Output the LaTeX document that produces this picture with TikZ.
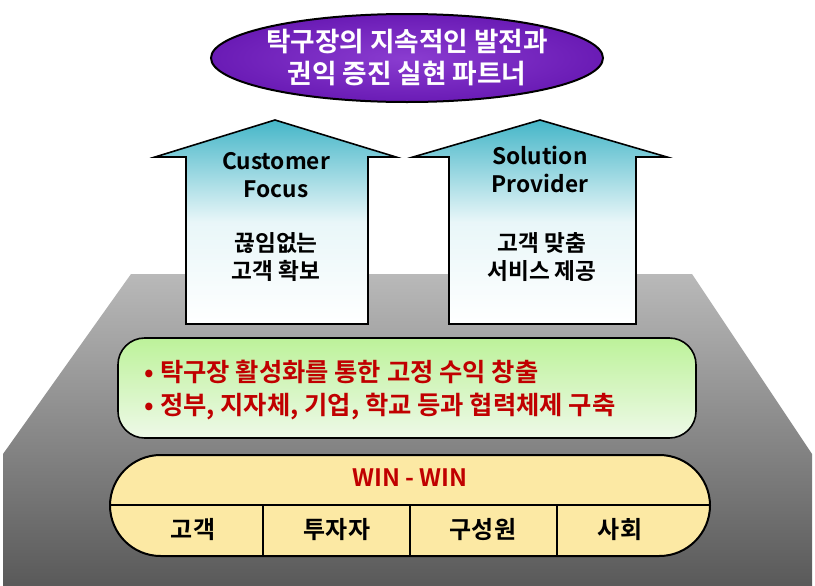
\documentclass[tikz,border=0pt]{standalone}
\usepackage{fontspec}
\setmainfont{Noto Sans CJK KR}[BoldFont={* Bold}]
\usetikzlibrary{shapes.geometric}
\definecolor{dred}{HTML}{C00000}
\definecolor{gtop}{HTML}{BDF29A}
\definecolor{gbot}{HTML}{EEF9E8}
\definecolor{ylw}{HTML}{FCE9A4}
\definecolor{purp}{HTML}{6A1BB5}
\definecolor{purpl}{HTML}{8A3CD0}
\definecolor{teal1}{HTML}{45B6C8}
\begin{document}
\begin{tikzpicture}[x=0.75pt,y=-0.75pt,font=\bfseries,
  arrowshape/.style={draw=black,line width=1.2pt,top color=teal1,bottom color=white,middle color=teal1!12!white},
  ttxt/.style={font=\bfseries\fontsize{17}{21}\selectfont,align=center},
  gtxt/.style={anchor=west,text=dred,font=\bfseries\fontsize{19}{22}\selectfont},
  cell/.style={font=\bfseries\fontsize{18}{21}\selectfont}]
\useasboundingbox (0,0) rectangle (815,586);
% base trapezoid
\path[top color=gray!55,bottom color=black!65] (131,274) -- (692,274) -- (812,454) -- (812,586) -- (3,586) -- (3,454) -- cycle;
% arrows
\path[arrowshape] (186,324) -- (186,157) -- (155,157) -- (275,120) -- (396,157) -- (368,157) -- (368,324) -- cycle;
\path[arrowshape] (449,324) -- (449,157) -- (413,157) -- (540,120) -- (667,157) -- (636,157) -- (636,324) -- cycle;
\node[ttxt] (cf) at (276,175) {Customer\\Focus};
\node[ttxt] (cfk) at (276,257) {끊임없는\\고객 확보};
\node[ttxt] (sp) at (540,169) {Solution\\Provider};
\node[ttxt] (spk) at (542,257) {고객 맞춤\\서비스 제공};
% ellipse
\draw[line width=1.5pt,inner color=purpl,outer color=purp] (407,58) ellipse [x radius=196,y radius=44];
\node[text=white,font=\bfseries\fontsize{20}{24}\selectfont,align=center] (goal) at (407,58) {탁구장의 지속적인 발전과\\권익 증진 실현 파트너};
% green box
\draw[line width=1.2pt,rounded corners=20pt,top color=gtop,bottom color=gbot] (118,338) rectangle (696,438);
\node[gtxt] (g1) at (140,372) {• 탁구장 활성화를 통한 고정 수익 창출};
\node[gtxt] (g2) at (140,407) {• 정부, 지자체, 기업, 학교 등과 협력체제 구축};
% yellow box
\draw[line width=1.5pt,rounded corners=38pt,fill=ylw] (110,455) rectangle (710,556);
\draw[line width=1.5pt] (110,505) -- (710,505);
\draw[line width=1.2pt] (263,505) -- (263,556) (410,505) -- (410,556) (557,505) -- (557,556);
\node[text=dred,cell] (win) at (410,478) {WIN - WIN};
\node[cell] (c1) at (193,530) {고객};
\node[cell] (c2) at (337,530) {투자자};
\node[cell] (c3) at (483,530) {구성원};
\node[cell] (c4) at (620,530) {사회};
\end{tikzpicture}
\end{document}
